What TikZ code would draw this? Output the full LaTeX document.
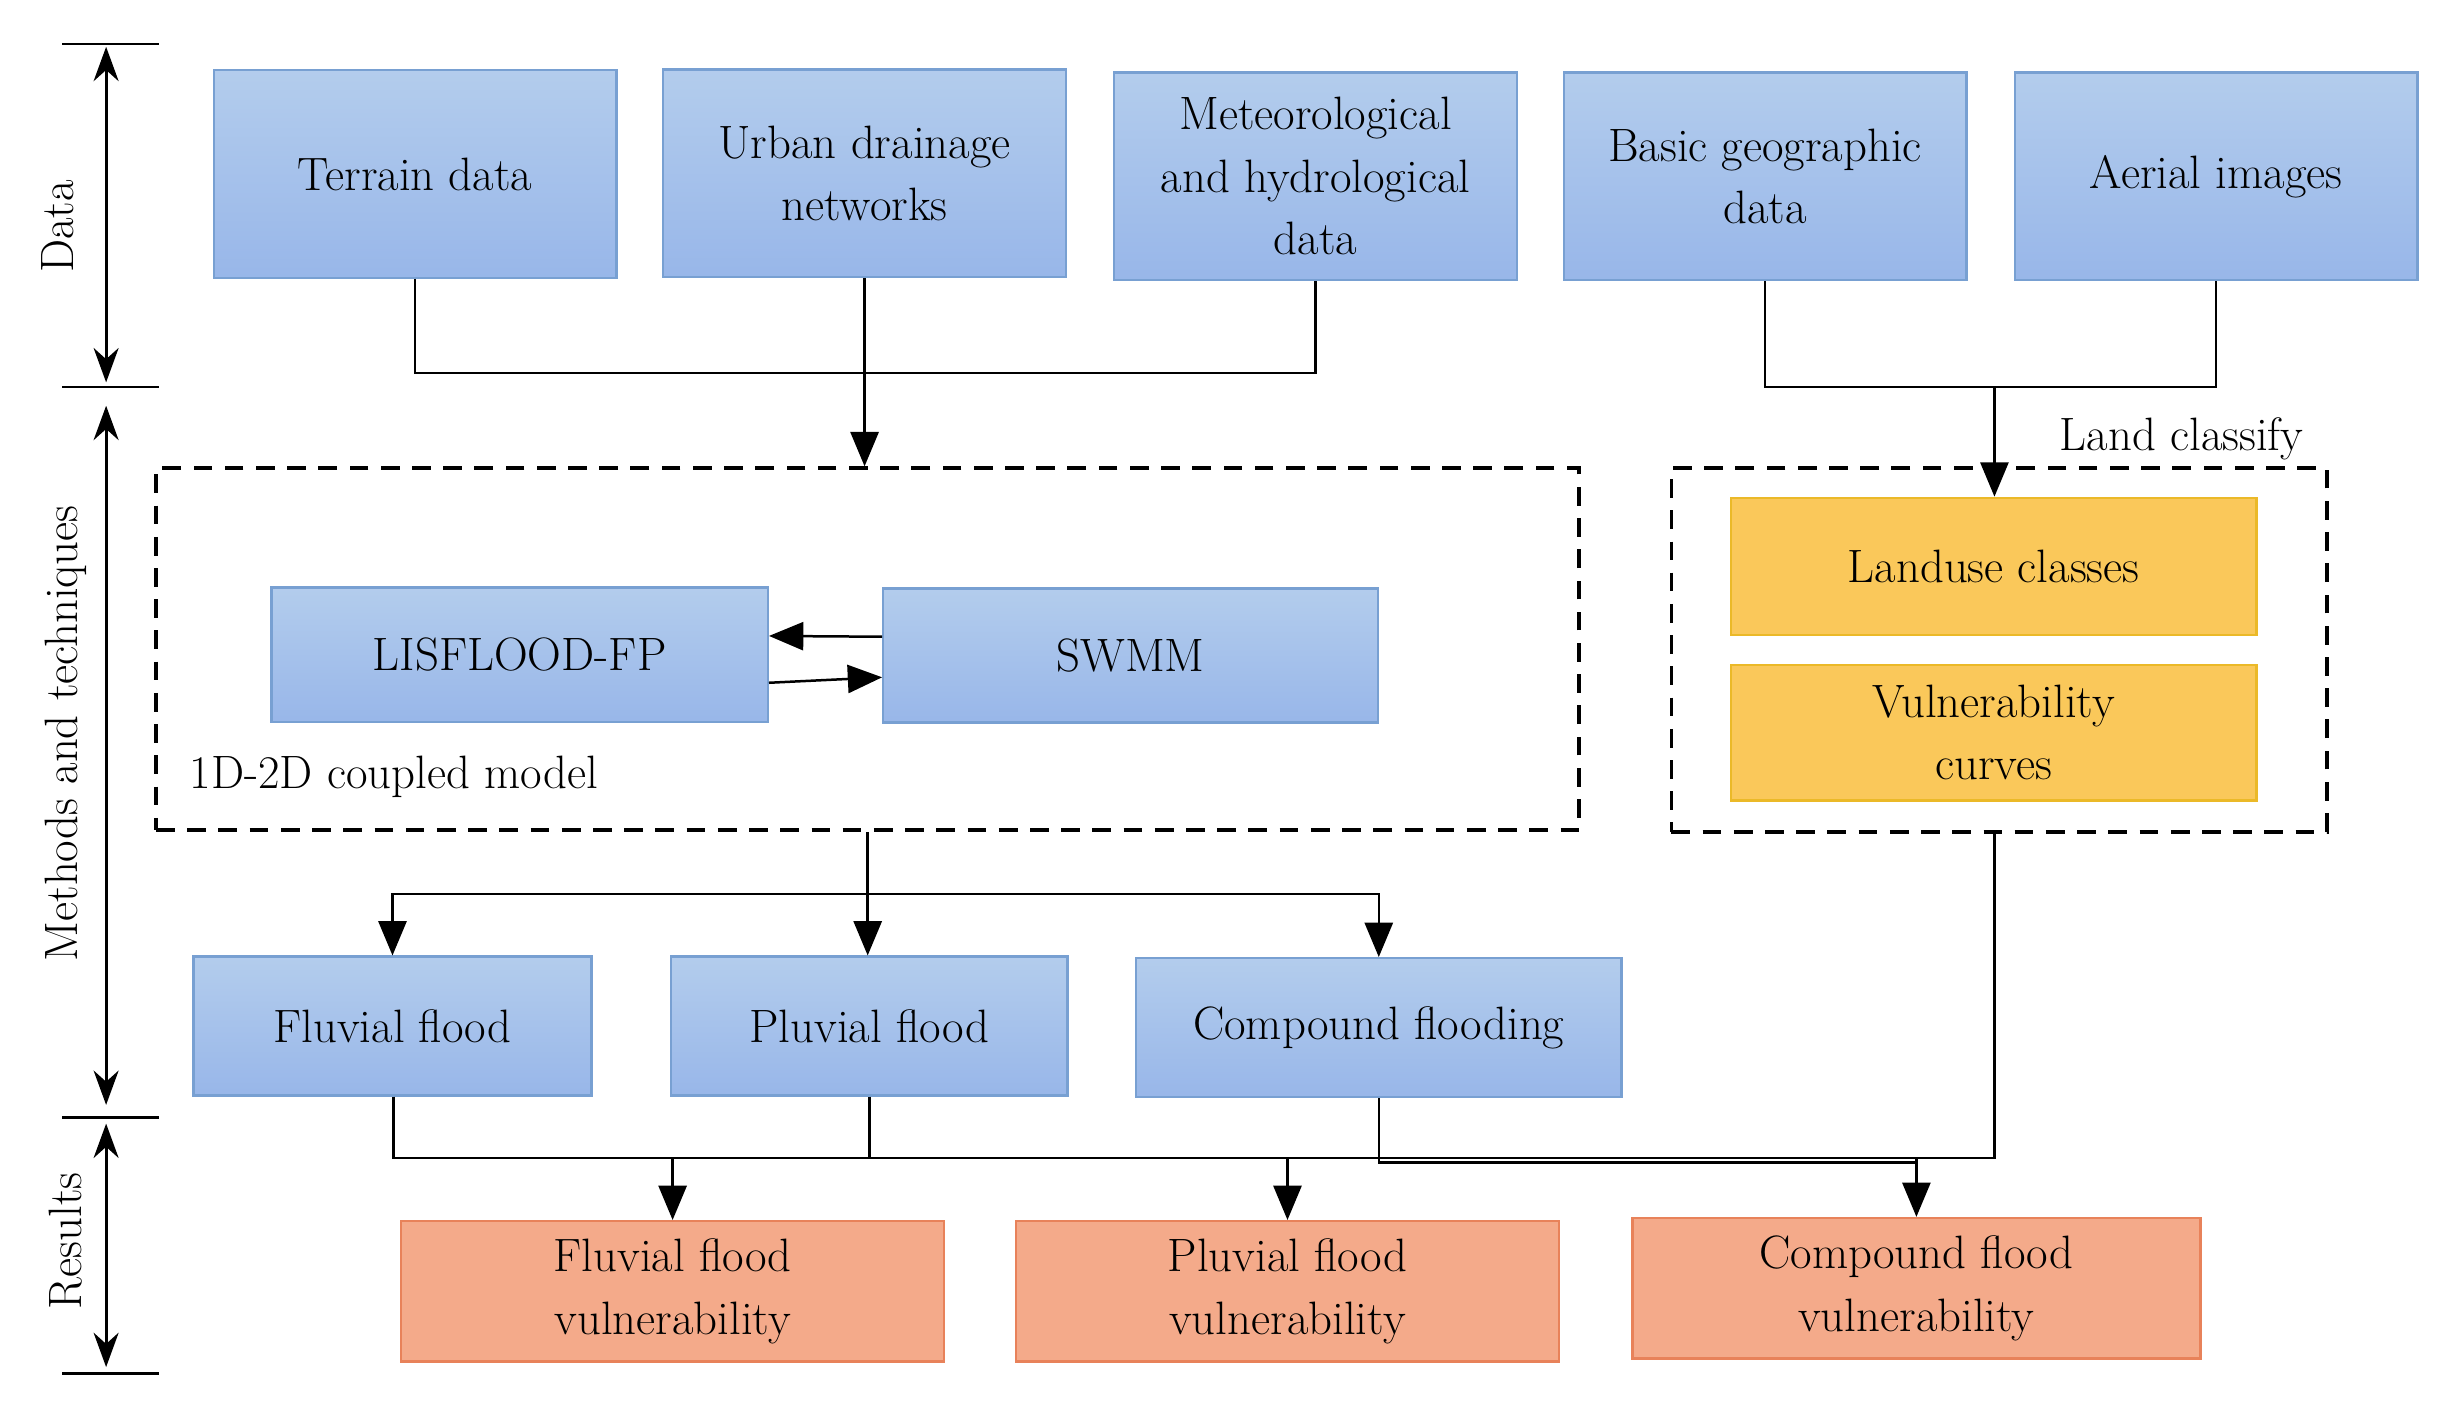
\documentclass[tikz,border=0pt]{standalone}
\usetikzlibrary{arrows.meta,positioning}
\definecolor{bluebox}{RGB}{160,192,232}
\definecolor{blueline}{RGB}{120,160,210}
\definecolor{yellowbox}{RGB}{250,200,90}
\definecolor{yellowline}{RGB}{235,185,40}
\definecolor{redbox}{RGB}{244,170,138}
\definecolor{redline}{RGB}{232,130,90}
\tikzset{
  box/.style={draw=blueline,line width=1.5pt,top color=bluebox!80!white,bottom color=bluebox!95!blue,
    minimum width=258pt,minimum height=133pt,align=center,font=\fontsize{30}{40}\selectfont,inner sep=0pt},
  lbox/.style={box,top color=yellowbox,bottom color=yellowbox,draw=yellowline,minimum width=337pt,minimum height=88pt},
  rbox/.style={box,top color=redbox,bottom color=redbox,draw=redline,minimum width=348pt,minimum height=90pt},
  link/.style={line width=1.6pt},
  arr/.style={link,-{Triangle[width=18pt,length=22pt]}},
  axis/.style={line width=2pt,{Stealth[width=16pt,length=22pt]}-{Stealth[width=16pt,length=22pt]}},
  frame/.style={line width=2.4pt,dash pattern=on 12pt off 8pt},
  txt/.style={font=\fontsize{30}{36}\selectfont}
}
\begin{document}
\begin{tikzpicture}[x=1pt,y=-1pt]
  \useasboundingbox (0,0) rectangle (1568,902);
  % side axis
  \foreach \yy in {28,248,716,880} \draw[line width=1.5pt] (40,\yy) -- (102,\yy);
  \draw[axis] (68,30) -- (68,245);
  \draw[axis] (68,260) -- (68,708);
  \draw[axis] (68,720) -- (68,876);
  \node[txt,rotate=90] (dlab) at (37,145) {Data};
  \node[txt,rotate=90] (mlab) at (42,470) {Methods and techniques};
  \node[txt,rotate=90] (rlab) at (42,795) {Results};

  % data row
  \node[box] (terrain) at (266,111.5) {Terrain data};
  \node[box] (urban) at (554,111) {Urban drainage\\networks};
  \node[box] (meteo) at (843,113) {Meteorological\\and hydrological\\data};
  \node[box] (basic) at (1131,113) {Basic geographic\\data};
  \node[box] (aerial) at (1420,113) {Aerial images};

  % method frames
  \node[draw,frame,minimum width=912pt,minimum height=232pt,inner sep=0pt] (model) at (556,416) {};
  \node[draw,frame,minimum width=420pt,minimum height=233pt,inner sep=0pt] (land) at (1281,416.5) {};
  \node[box,minimum width=318pt,minimum height=86pt] (lisflood) at (333,419.5) {LISFLOOD-FP};
  \node[box,minimum width=317pt,minimum height=86pt] (swmm) at (724.5,420) {SWMM};
  \node[txt,anchor=west] (coupled) at (118,498) {1D-2D coupled model};
  \node[lbox] (landuse) at (1277.5,363) {Landuse classes};
  \node[lbox,minimum height=87pt] (vcurve) at (1277.5,469.5) {Vulnerability\\curves};
  \node[txt] (classify) at (1398,281) {Land classify};

  % flood types
  \node[box,minimum width=255pt,minimum height=89pt] (fluvial) at (251.5,657.5) {Fluvial flood};
  \node[box,minimum width=254pt,minimum height=89pt] (pluvial) at (557,657.5) {Pluvial flood};
  \node[box,minimum width=311pt,minimum height=89pt] (compound) at (883.5,658.5) {Compound flooding};

  % results
  \node[rbox] (rfluvial) at (431,827.5) {Fluvial flood\\vulnerability};
  \node[rbox] (rpluvial) at (825,827.5) {Pluvial flood\\vulnerability};
  \node[rbox,minimum width=364pt] (rcompound) at (1228,825.5) {Compound flood\\vulnerability};

  % connectors
  \coordinate (j1) at (554,239);
  \coordinate (j2) at (1278,248);
  \draw[link] (terrain.south) |- (j1) -| (meteo.south);
  \draw[link] (urban.south) -- (j1);
  \draw[arr] (j1) -- (model.north -| j1);
  \draw[link] (basic.south) |- (j2) -| (aerial.south);
  \draw[arr] (j2) -- (landuse.north -| j2);
  \draw[arr] ([yshift=-18pt]lisflood.east) -- ([yshift=-14pt]swmm.west);
  \draw[arr] ([yshift=12pt]swmm.west) -- ([yshift=12pt]lisflood.east);

  \coordinate (j3) at (556,573);
  \draw[arr] (model.south -| j3) -- (pluvial.north -| j3);
  \draw[arr] (j3) -| (fluvial.north);
  \draw[arr] (j3) -| (compound.north);

  \coordinate (j4) at (252,742);
  \coordinate (j5) at (1278,742);
  \draw[link] (fluvial.south -| j4) -- (j4) -- (j5) -- (land.south -| j5);
  \draw[link] (pluvial.south) -- (pluvial.south |- j4);
  \draw[link] (compound.south) |- (1229,745);
  \draw[arr] (rfluvial.north |- j4) -- (rfluvial.north);
  \draw[arr] (rpluvial.north |- j4) -- (rpluvial.north);
  \draw[arr] (rcompound.north |- j4) -- (rcompound.north);
\end{tikzpicture}
\end{document}
